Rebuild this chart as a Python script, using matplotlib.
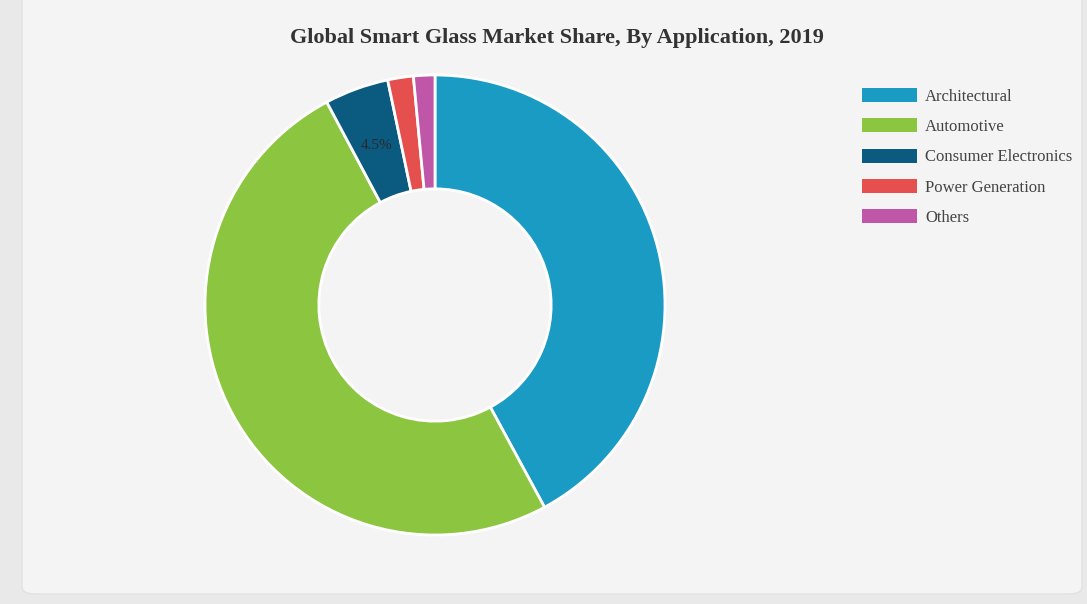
import matplotlib
matplotlib.use("Agg")
import matplotlib.pyplot as plt
from matplotlib.patches import FancyBboxPatch
import numpy as np

title = "Global Smart Glass Market Share, By Application, 2019"
categories = ["Architectural", "Automotive", "Consumer Electronics", "Power Generation", "Others"]
shares = [42.1, 50.1, 4.5, 1.8, 1.5]
colors = ["#1a9bc4", "#8cc53f", "#0b5a80", "#e5504e", "#c056a8"]

W, H = 1087, 604
fig = plt.figure(figsize=(W / 100, H / 100), dpi=100)
fig.patch.set_facecolor("#e9e9e9")

card = FancyBboxPatch((22 / W, 10 / H), (1082 - 22) / W, (H + 20) / H,
                      boxstyle="round,pad=0,rounding_size=0.012",
                      transform=fig.transFigure, facecolor="#f4f4f4",
                      edgecolor="#e2e2e2", linewidth=1.0, zorder=-5)
fig.patches.append(card)

cx, cy, r = 435, 305, 230
ax = fig.add_axes([(cx - r) / W, (H - cy - r) / H, 2 * r / W, 2 * r / H], zorder=2)
ax.set_facecolor("none")
wedges, _ = ax.pie(shares, colors=colors, startangle=90, counterclock=False,
                   radius=1.0,
                   wedgeprops=dict(width=0.495, edgecolor="white", linewidth=2))
ax.set_xlim(-1.0, 1.0)
ax.set_ylim(-1.0, 1.0)
ax.axis("off")

# label on the Consumer Electronics slice
start = 90 - 360 * (shares[0] + shares[1]) / 100
mid = start - 360 * shares[2] / 200
ang = np.deg2rad(mid)
ax.text(0.74 * np.cos(ang), 0.74 * np.sin(ang), "4.5%", ha="center", va="center",
        fontsize=11, family="Liberation Serif", color="#2a2a2a")

fig.text(557 / W, 1 - 38 / H, title, ha="center", va="center",
         fontsize=16, fontweight="bold", family="Liberation Serif", color="#333333")

leg = fig.legend(wedges, categories, loc="upper left",
                 bbox_to_anchor=(857 / W, 1 - 83 / H), frameon=False,
                 prop=dict(family="Liberation Serif", size=12),
                 handlelength=3.3, handleheight=0.9, handletextpad=0.5,
                 labelspacing=0.82, borderaxespad=0, borderpad=0.3)
for t in leg.get_texts():
    t.set_color("#444444")
for p in leg.get_patches():
    p.set_edgecolor("none")

fig.savefig("out.png", dpi=100, facecolor=fig.get_facecolor())
